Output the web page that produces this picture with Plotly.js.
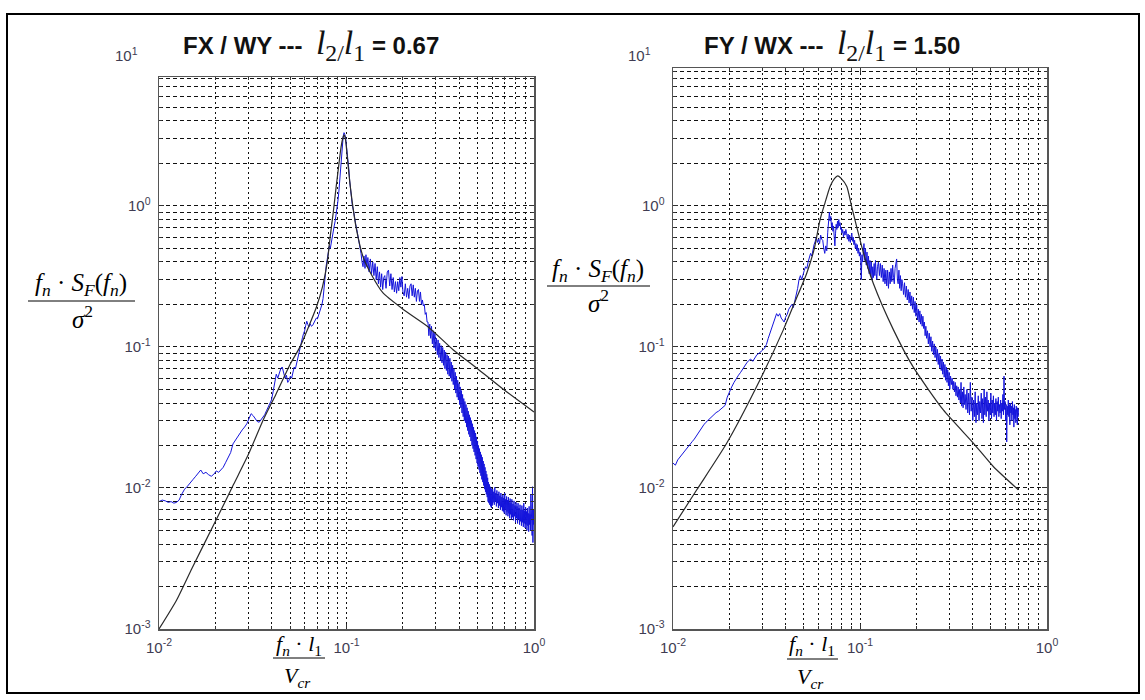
<!DOCTYPE html>
<html><head><meta charset="utf-8">
<script src="https://cdn.plot.ly/plotly-3.0.1.min.js"></script>
<style>html,body{margin:0;padding:0;background:#fff}#chart{width:1145px;height:700px}</style>
</head><body><div id="chart"></div>
<script>
// ---------- DATA ----------
// Left panel: FX / WY, l2/l1 = 0.67
const fxwyTheoryFreq = [0.0100,0.0124,0.0150,0.0200,0.0250,0.0300,0.0360,0.0420,0.0500,0.0565,0.0628,0.0690,0.0745,0.0790,0.0818,0.0850,0.0880,0.0910,0.0935,0.0955,0.0973,0.0990,0.1010,0.1040,0.1080,0.1130,0.1225,0.1350,0.1566,0.2000,0.2720,0.3700,0.5000,0.7000,1.0000];
const fxwyTheory = [0.0010,0.0016,0.0027,0.0058,0.0106,0.0173,0.0304,0.0460,0.0750,0.1000,0.1390,0.1900,0.2670,0.4000,0.6000,0.9000,1.3500,1.9500,2.6000,3.0000,3.1900,2.9000,2.2000,1.5000,1.0000,0.6800,0.4350,0.3300,0.2410,0.1850,0.1390,0.0955,0.0700,0.0490,0.0345];

const fxwyFreq = [
0.0100,0.0104,0.0108,0.0112,0.0116,0.0120,0.0124,0.0128,0.0132,0.0137,
0.0142,0.0147,0.0152,0.0157,0.0162,0.0167,0.0172,0.0178,0.0184,0.0190,
0.0196,0.0202,0.0208,0.0214,0.0220,0.0227,0.0234,0.0241,0.0248,0.0255,
0.0262,0.0270,0.0278,0.0286,0.0294,0.0302,0.0310,0.0318,0.0326,0.0334,
0.0342,0.0350,0.0358,0.0366,0.0374,0.0382,0.0390,0.0398,0.0406,0.0414,
0.0422,0.0430,0.0438,0.0446,0.0454,0.0462,0.0470,0.0478,0.0486,0.0494,
0.0502,0.0510,0.0518,0.0526,0.0534,0.0542,0.0550,0.0558,0.0566,0.0574,
0.0582,0.0590,0.0598,0.0606,0.0614,0.0622,0.0630,0.0640,0.0650,0.0660,
0.0670,0.0680,0.0690,0.0700,0.0710,0.0720,0.0730,0.0740,0.0750,0.0760,
0.0770,0.0780,0.0790,0.0800,0.0810,0.0820,0.0830,0.0840,0.0850,0.0860,
0.0870,0.0880,0.0890,0.0900,0.0910,0.0920,0.0930,0.0940,0.0950,0.0960,
0.0970,0.0980,0.0990,0.1000,0.1010,0.1020,0.1030,0.1040,0.1050,0.1060,
0.1075,0.1090,0.1105,0.1120,0.1135,0.1150,0.1165,0.1180,0.1195,0.1210,
0.1225,0.1240,0.1255,0.1270,0.1285,0.1300,0.1320,0.1340,0.1360,0.1380,
0.1400,0.1420,0.1440,0.1460,0.1480,0.1500,0.1520,0.1540,0.1560,0.1580,
0.1600,0.1625,0.1650,0.1675,0.1700,0.1725,0.1750,0.1775,0.1800,0.1825,
0.1850,0.1875,0.1900,0.1925,0.1950,0.1975,0.2000,0.2030,0.2060,0.2090,
0.2120,0.2150,0.2180,0.2210,0.2240,0.2270,0.2300,0.2330,0.2360,0.2390,
0.2420,0.2450,0.2480,0.2510,0.2540,0.2570,0.2600,0.2630,0.2660,0.2690,
0.2720,0.2750,0.2780,0.2810,0.2840,0.2870,0.2900,0.2930,0.2960,0.2990,
0.3020,0.3050,0.3080,0.3110,0.3140,0.3170,0.3200,0.3230,0.3260,0.3290,
0.3320,0.3350,0.3380,0.3410,0.3440,0.3470,0.3500,0.3530,0.3560,0.3590,
0.3620,0.3650,0.3680,0.3710,0.3740,0.3770,0.3800,0.3830,0.3860,0.3890,
0.3920,0.3950,0.3980,0.4010,0.4040,0.4070,0.4100,0.4130,0.4160,0.4190,
0.4220,0.4250,0.4280,0.4310,0.4340,0.4370,0.4400,0.4430,0.4460,0.4490,
0.4520,0.4550,0.4580,0.4610,0.4640,0.4670,0.4700,0.4730,0.4760,0.4790,
0.4820,0.4850,0.4880,0.4910,0.4940,0.4970,0.5000,0.5030,0.5060,0.5090,
0.5120,0.5150,0.5180,0.5210,0.5240,0.5270,0.5300,0.5330,0.5360,0.5390,
0.5420,0.5450,0.5480,0.5510,0.5540,0.5570,0.5600,0.5630,0.5660,0.5690,
0.5720,0.5750,0.5780,0.5810,0.5840,0.5870,0.5900,0.5930,0.5960,0.5990,
0.6020,0.6060,0.6100,0.6140,0.6180,0.6220,0.6260,0.6300,0.6340,0.6380,
0.6420,0.6460,0.6500,0.6540,0.6580,0.6620,0.6660,0.6700,0.6740,0.6780,
0.6820,0.6860,0.6900,0.6940,0.6980,0.7020,0.7060,0.7100,0.7140,0.7180,
0.7220,0.7260,0.7300,0.7340,0.7380,0.7420,0.7460,0.7500,0.7540,0.7580,
0.7620,0.7670,0.7720,0.7770,0.7820,0.7870,0.7920,0.7970,0.8020,0.8070,
0.8120,0.8170,0.8220,0.8270,0.8320,0.8370,0.8420,0.8470,0.8520,0.8570,
0.8620,0.8670,0.8720,0.8770,0.8820,0.8870,0.8920,0.8970,0.9020,0.9070,
0.9120,0.9170,0.9220,0.9270,0.9320,0.9370,0.9420,0.9470,0.9520,0.9570,
0.9620,0.9670,0.9720,0.9770,0.9820,0.9870,0.9920,0.9960,1.0000];
const fxwyMeasured = [
0.0080,0.0082,0.0081,0.0079,0.0080,0.0078,0.0079,0.0082,0.0090,0.0098,
0.0103,0.0108,0.0115,0.0121,0.0128,0.0134,0.0126,0.0129,0.0124,0.0121,
0.0125,0.0132,0.0129,0.0134,0.0140,0.0152,0.0163,0.0178,0.0205,0.0218,
0.0230,0.0246,0.0258,0.0270,0.0285,0.0310,0.0336,0.0325,0.0308,0.0296,
0.0292,0.0305,0.0318,0.0330,0.0352,0.0372,0.0388,0.0420,0.0480,0.0560,
0.0640,0.0600,0.0660,0.0700,0.0720,0.0640,0.0600,0.0630,0.0560,0.0580,
0.0620,0.0600,0.0680,0.0720,0.0700,0.0770,0.0820,0.0880,0.0980,0.1080,
0.1160,0.1240,0.1300,0.1420,0.1520,0.1440,0.1380,0.1460,0.1400,0.1420,
0.1480,0.1520,0.1600,0.1580,0.1680,0.1760,0.1900,0.2000,0.2200,0.2700,
0.3200,0.3800,0.4200,0.4800,0.5200,0.5000,0.5600,0.6000,0.6600,0.7200,
0.7800,0.8600,0.9600,1.0800,1.2500,1.5000,1.8000,2.3000,2.7000,3.1000,
3.3000,3.2000,3.0000,2.7000,2.4000,2.1000,1.8000,1.5000,1.3000,1.1500,
1.0000,0.9200,0.8000,0.7400,0.6800,0.6200,0.5800,0.5200,0.4600,0.4000,
0.3700,0.4400,0.3600,0.4500,0.3700,0.4300,0.3400,0.4200,0.3300,0.4000,
0.3200,0.3900,0.3000,0.3700,0.2800,0.3400,0.2650,0.3300,0.2550,0.3100,
0.3200,0.2600,0.3400,0.3500,0.2700,0.3300,0.2550,0.3100,0.2450,0.2900,
0.2400,0.2900,0.2500,0.3100,0.2650,0.3150,0.2450,0.2300,0.2800,0.2250,
0.2600,0.2200,0.2700,0.2800,0.2300,0.2750,0.2250,0.2600,0.2100,0.2500,
0.2550,0.2100,0.2450,0.2000,0.2150,0.1950,0.2000,0.1700,0.1750,0.1500,
0.1500,0.1200,0.1450,0.1150,0.1400,0.1050,0.1300,0.0980,0.1250,0.0940,
0.1150,0.0880,0.1120,0.0840,0.1060,0.0800,0.1020,0.0770,0.0990,0.0740,
0.0950,0.0700,0.0920,0.0680,0.0880,0.0640,0.0860,0.0620,0.0830,0.0600,
0.0780,0.0570,0.0740,0.0540,0.0700,0.0500,0.0660,0.0470,0.0620,0.0440,
0.0580,0.0420,0.0550,0.0390,0.0520,0.0370,0.0490,0.0340,0.0460,0.0320,
0.0430,0.0300,0.0410,0.0290,0.0390,0.0270,0.0370,0.0255,0.0350,0.0240,
0.0330,0.0230,0.0315,0.0215,0.0300,0.0200,0.0285,0.0190,0.0270,0.0180,
0.0255,0.0170,0.0245,0.0160,0.0230,0.0150,0.0215,0.0142,0.0200,0.0135,
0.0190,0.0128,0.0180,0.0122,0.0172,0.0115,0.0165,0.0110,0.0155,0.0104,
0.0148,0.0098,0.0140,0.0094,0.0132,0.0090,0.0125,0.0086,0.0118,0.0080,
0.0110,0.0078,0.0106,0.0076,0.0102,0.0074,0.0100,0.0072,0.0098,0.0075,
0.0098,0.0079,0.0094,0.0076,0.0101,0.0080,0.0092,0.0074,0.0096,0.0078,
0.0090,0.0072,0.0094,0.0075,0.0088,0.0070,0.0092,0.0073,0.0086,0.0069,
0.0089,0.0068,0.0085,0.0066,0.0092,0.0070,0.0083,0.0064,0.0087,0.0068,
0.0082,0.0063,0.0086,0.0066,0.0079,0.0061,0.0084,0.0065,0.0078,0.0060,
0.0083,0.0062,0.0077,0.0059,0.0081,0.0063,0.0075,0.0057,0.0079,0.0061,
0.0074,0.0056,0.0078,0.0060,0.0072,0.0055,0.0076,0.0058,0.0070,0.0054,
0.0075,0.0057,0.0070,0.0053,0.0078,0.0056,0.0069,0.0052,0.0073,0.0055,
0.0068,0.0050,0.0072,0.0054,0.0066,0.0049,0.0074,0.0055,0.0065,0.0050,
0.0090,0.0052,0.0068,0.0046,0.0102,0.0041,0.0070,0.0055,0.0062];

// Right panel: FY / WX, l2/l1 = 1.50
const fywxTheoryFreq = [0.0100,0.0134,0.0194,0.0292,0.0389,0.0450,0.0519,0.0570,0.0611,0.0650,0.0692,0.0730,0.0760,0.0790,0.0850,0.0900,0.0960,0.1050,0.1180,0.1510,0.1920,0.2790,0.4035,0.5160,0.7030];
const fywxTheory = [0.0053,0.0097,0.0208,0.0584,0.1320,0.2100,0.3330,0.5000,0.7950,1.0500,1.3700,1.5600,1.6300,1.5700,1.3700,1.0000,0.7100,0.4500,0.2800,0.1320,0.0724,0.0357,0.0208,0.0142,0.0097];

const fywxFreq = [
0.0100,0.0103,0.0106,0.0109,0.0112,0.0115,0.0118,0.0121,0.0124,0.0127,
0.0130,0.0134,0.0138,0.0142,0.0146,0.0150,0.0155,0.0160,0.0165,0.0170,
0.0175,0.0180,0.0185,0.0190,0.0195,0.0200,0.0206,0.0212,0.0218,0.0224,
0.0230,0.0236,0.0242,0.0248,0.0254,0.0260,0.0267,0.0274,0.0281,0.0288,
0.0295,0.0302,0.0309,0.0316,0.0323,0.0330,0.0337,0.0344,0.0351,0.0358,
0.0365,0.0372,0.0379,0.0386,0.0393,0.0400,0.0408,0.0416,0.0424,0.0432,
0.0440,0.0448,0.0456,0.0464,0.0472,0.0480,0.0488,0.0496,0.0504,0.0512,
0.0520,0.0528,0.0536,0.0544,0.0552,0.0560,0.0568,0.0576,0.0584,0.0592,
0.0600,0.0608,0.0616,0.0624,0.0632,0.0640,0.0648,0.0656,0.0664,0.0672,
0.0680,0.0686,0.0692,0.0698,0.0704,0.0710,0.0716,0.0722,0.0728,0.0734,
0.0740,0.0746,0.0752,0.0758,0.0764,0.0770,0.0776,0.0782,0.0788,0.0794,
0.0800,0.0808,0.0816,0.0824,0.0832,0.0840,0.0848,0.0856,0.0864,0.0872,
0.0880,0.0888,0.0896,0.0904,0.0912,0.0920,0.0928,0.0936,0.0944,0.0952,
0.0960,0.0968,0.0976,0.0984,0.0992,0.1000,0.1008,0.1016,0.1024,0.1032,
0.1040,0.1050,0.1060,0.1070,0.1080,0.1090,0.1100,0.1110,0.1120,0.1130,
0.1140,0.1150,0.1160,0.1170,0.1180,0.1190,0.1200,0.1210,0.1220,0.1230,
0.1240,0.1255,0.1270,0.1285,0.1300,0.1315,0.1330,0.1345,0.1360,0.1375,
0.1390,0.1405,0.1420,0.1435,0.1450,0.1465,0.1480,0.1495,0.1510,0.1525,
0.1540,0.1555,0.1570,0.1585,0.1600,0.1615,0.1630,0.1645,0.1660,0.1675,
0.1690,0.1710,0.1730,0.1750,0.1770,0.1790,0.1810,0.1830,0.1850,0.1870,
0.1890,0.1910,0.1930,0.1950,0.1970,0.1990,0.2010,0.2030,0.2050,0.2070,
0.2090,0.2110,0.2130,0.2150,0.2170,0.2190,0.2210,0.2230,0.2250,0.2270,
0.2295,0.2320,0.2345,0.2370,0.2395,0.2420,0.2445,0.2470,0.2495,0.2520,
0.2545,0.2570,0.2595,0.2620,0.2645,0.2670,0.2695,0.2720,0.2745,0.2770,
0.2795,0.2820,0.2845,0.2870,0.2895,0.2920,0.2945,0.2970,0.2995,0.3020,
0.3050,0.3080,0.3110,0.3140,0.3170,0.3200,0.3230,0.3260,0.3290,0.3320,
0.3350,0.3380,0.3410,0.3440,0.3470,0.3500,0.3530,0.3560,0.3590,0.3620,
0.3650,0.3690,0.3730,0.3770,0.3810,0.3850,0.3890,0.3930,0.3970,0.4010,
0.4050,0.4090,0.4130,0.4170,0.4210,0.4250,0.4290,0.4330,0.4370,0.4410,
0.4450,0.4490,0.4530,0.4570,0.4610,0.4650,0.4690,0.4730,0.4770,0.4810,
0.4850,0.4890,0.4930,0.4970,0.5010,0.5050,0.5090,0.5130,0.5170,0.5210,
0.5250,0.5290,0.5330,0.5370,0.5410,0.5450,0.5490,0.5530,0.5570,0.5610,
0.5650,0.5690,0.5730,0.5770,0.5810,0.5850,0.5890,0.5930,0.5970,0.6010,
0.6050,0.6090,0.6130,0.6170,0.6210,0.6250,0.6290,0.6330,0.6370,0.6410,
0.6450,0.6490,0.6530,0.6570,0.6610,0.6650,0.6690,0.6730,0.6770,0.6810,
0.6850,0.6880,0.6910,0.6940,0.6970,0.7000,0.7030];
const fywxMeasured = [
0.0150,0.0145,0.0158,0.0166,0.0172,0.0180,0.0188,0.0196,0.0205,0.0214,
0.0222,0.0236,0.0250,0.0268,0.0280,0.0292,0.0305,0.0320,0.0334,0.0342,
0.0350,0.0362,0.0372,0.0385,0.0440,0.0480,0.0520,0.0560,0.0600,0.0630,
0.0660,0.0700,0.0740,0.0770,0.0800,0.0820,0.0790,0.0840,0.0880,0.0900,
0.0920,0.0950,0.0980,0.1040,0.1150,0.1250,0.1320,0.1450,0.1600,0.1720,
0.1650,0.1720,0.1600,0.1550,0.1500,0.1620,0.1700,0.1850,0.1950,0.2000,
0.1900,0.2100,0.2300,0.2600,0.3000,0.3200,0.3000,0.3300,0.3500,0.3700,
0.3600,0.4000,0.4300,0.4600,0.4400,0.4900,0.5300,0.5600,0.6000,0.5500,
0.5800,0.5400,0.6200,0.5800,0.5700,0.5000,0.4600,0.5200,0.4800,0.6500,
0.7500,0.9000,0.7800,0.8400,0.7000,0.7600,0.6600,0.7200,0.6000,0.5200,
0.6400,0.7400,0.6800,0.7800,0.7000,0.8000,0.7200,0.7600,0.6800,0.7000,
0.6400,0.6800,0.6000,0.6600,0.6200,0.6800,0.6400,0.5800,0.6300,0.5600,
0.6200,0.5500,0.6000,0.6400,0.5600,0.6000,0.5300,0.5700,0.5000,0.5400,
0.4800,0.5300,0.4600,0.5000,0.4400,0.4700,0.4100,0.3000,0.4500,0.4000,
0.4600,0.5400,0.4100,0.5000,0.3800,0.4700,0.3600,0.4400,0.3300,0.4100,
0.3200,0.4000,0.3000,0.3700,0.3100,0.3900,0.3200,0.4100,0.3300,0.3000,
0.3700,0.4000,0.3200,0.3900,0.3100,0.3800,0.2900,0.3600,0.2800,0.3500,
0.2700,0.3500,0.2600,0.3400,0.2800,0.3600,0.2900,0.3800,0.3100,0.2800,
0.3600,0.4000,0.4200,0.3000,0.2800,0.3500,0.2600,0.3200,0.2500,0.3000,
0.2800,0.2350,0.2850,0.2250,0.2700,0.2150,0.2550,0.2050,0.2450,0.1950,
0.2300,0.1850,0.2250,0.1750,0.2100,0.1650,0.2000,0.1550,0.1850,0.1500,
0.1800,0.1450,0.1700,0.1400,0.1650,0.1350,0.1500,0.1200,0.1400,0.1150,
0.1300,0.1050,0.1250,0.1000,0.1180,0.0930,0.1100,0.0880,0.1050,0.0840,
0.1000,0.0790,0.0960,0.0750,0.0900,0.0710,0.0860,0.0680,0.0820,0.0640,
0.0780,0.0610,0.0750,0.0580,0.0720,0.0560,0.0690,0.0530,0.0660,0.0500,
0.0620,0.0540,0.0600,0.0500,0.0570,0.0480,0.0560,0.0450,0.0530,0.0440,
0.0520,0.0420,0.0500,0.0400,0.0560,0.0380,0.0480,0.0370,0.0520,0.0390,
0.0460,0.0360,0.0500,0.0340,0.0470,0.0330,0.0560,0.0350,0.0440,0.0300,
0.0420,0.0320,0.0480,0.0290,0.0400,0.0330,0.0450,0.0300,0.0410,0.0340,
0.0470,0.0310,0.0430,0.0290,0.0500,0.0330,0.0440,0.0320,0.0480,0.0350,
0.0420,0.0300,0.0400,0.0330,0.0470,0.0310,0.0420,0.0340,0.0450,0.0320,
0.0400,0.0330,0.0430,0.0300,0.0410,0.0350,0.0440,0.0320,0.0390,0.0340,
0.0420,0.0310,0.0400,0.0350,0.0460,0.0330,0.0620,0.0360,0.0410,0.0300,
0.0390,0.0212,0.0380,0.0330,0.0420,0.0320,0.0390,0.0280,0.0400,0.0340,
0.0380,0.0300,0.0410,0.0330,0.0370,0.0270,0.0390,0.0310,0.0360,0.0290,
0.0380,0.0300,0.0350,0.0280,0.0370,0.0320,0.0360];

// Tick labels and titles
const xTickVals = [0.01, 0.1, 1];
const xTickText = ['10<sup>-2</sup>', '10<sup>-1</sup>', '10<sup>0</sup>'];
const yTickVals = [0.001, 0.01, 0.1, 1];
const yTickText = ['10<sup>-3</sup>', '10<sup>-2</sup>', '10<sup>-1</sup>', '10<sup>0</sup>'];
const topTickText = '10<sup>1</sup>';
const panelTitles = [
  {name:'FX / WY', ratio:'0.67'},
  {name:'FY / WX', ratio:'1.50'}
];

// ---------- LAYOUT ----------
const W = 1145, H = 700;
const px = v => v / W, py = v => 1 - v / H;

function minorVals(kFrom, kTo){
  const out = [];
  for (let k = kFrom; k < kTo; k++) for (let d = 2; d <= 9; d++) out.push(+(d * Math.pow(10, k)).toPrecision(3));
  return out;
}
const gridCol = '#111';
const tickCol = '#403c52';
const tickFont = {family:'Arial, Liberation Sans, sans-serif', size:15, color:tickCol};

function xAxis(dom, anchor){
  return {type:'log', domain:dom, anchor:anchor, range:[-2,0], tickmode:'array', tickvals:xTickVals, ticktext:xTickText,
    ticks:'inside', ticklen:5, tickcolor:'#333', tickwidth:1, showline:true, mirror:'ticks', linecolor:'#555', linewidth:1.5,
    showgrid:true, gridcolor:gridCol, gridwidth:1, griddash:'2px,3px', zeroline:false, tickfont:tickFont, ticklabelstandoff:4,
    minor:{tickmode:'array', tickvals:minorVals(-2,0), showgrid:true, gridcolor:gridCol, gridwidth:1, griddash:'2px,3px', ticks:'inside', ticklen:3, tickcolor:'#333'},
    fixedrange:true};
}
function yAxis(dom, anchor, top){
  return {type:'log', domain:dom, anchor:anchor, range:[-3, top], tickmode:'array', tickvals:yTickVals, ticktext:yTickText,
    ticks:'inside', ticklen:5, tickcolor:'#333', tickwidth:1, showline:true, mirror:'ticks', linecolor:'#555', linewidth:1.5,
    showgrid:true, gridcolor:gridCol, gridwidth:1, griddash:'4px,3px', zeroline:false, tickfont:tickFont, ticklabelstandoff:4,
    minor:{tickmode:'array', tickvals:minorVals(-3,1), showgrid:true, gridcolor:gridCol, gridwidth:1, griddash:'4px,3px', ticks:'inside', ticklen:3, tickcolor:'#333'},
    fixedrange:true};
}

const traces = [
  {x:fxwyFreq, y:fxwyMeasured, xaxis:'x', yaxis:'y', type:'scatter', mode:'lines', line:{color:'#1414dc', width:1}, hoverinfo:'skip'},
  {x:fxwyTheoryFreq, y:fxwyTheory, xaxis:'x', yaxis:'y', type:'scatter', mode:'lines', line:{color:'#2a2a2a', width:1.2, shape:'spline', smoothing:0.6}, hoverinfo:'skip'},
  {x:fywxFreq, y:fywxMeasured, xaxis:'x2', yaxis:'y2', type:'scatter', mode:'lines', line:{color:'#1414dc', width:1}, hoverinfo:'skip'},
  {x:fywxTheoryFreq, y:fywxTheory, xaxis:'x2', yaxis:'y2', type:'scatter', mode:'lines', line:{color:'#2a2a2a', width:1.2, shape:'spline', smoothing:0.6}, hoverinfo:'skip'}
];

const serif = "'Liberation Serif', 'Times New Roman', serif";
const sans = 'Arial, Liberation Sans, sans-serif';
function titleText(t){
  return '<b>' + t.name + ' ---  </b>' +
    '<span style="font-family:Liberation Serif;font-size:34px"><i>l</i><sub>2/</sub><i>l</i><sub>1</sub></span>' +
    '<b> = ' + t.ratio + '</b>';
}
const yNum = '<i>f</i><sub><i>n</i></sub>\u00a0·\u00a0<i>S</i><sub><i>F</i></sub>(<i>f</i><sub><i>n</i></sub>)';
const yDen = '<i>σ</i><sup>2</sup>';
const xNum = '<i>f</i><sub><i>n</i></sub>\u00a0·\u00a0<i>l</i><sub>1</sub>';
const xDen = '<i>V</i><sub><i>cr</i></sub>';

function ann(x, y, text, font, xanchor){
  return {xref:'paper', yref:'paper', x:px(x), y:py(y), text:text, showarrow:false, xanchor:xanchor||'center', yanchor:'middle', font:font};
}
const yLabFont = {family:serif, size:25, color:'#000'};
const xLabFont = {family:serif, size:22, color:'#000'};
const annotations = [
  ann(311, 45, titleText(panelTitles[0]), {family:sans, size:24, color:'#111'}),
  ann(832, 45, titleText(panelTitles[1]), {family:sans, size:24, color:'#111'}),
  ann(140, 54, topTickText, tickFont, 'right'),
  ann(653, 54, topTickText, tickFont, 'right'),
  ann(81, 284, yNum, yLabFont), ann(82, 317, yDen, yLabFont),
  ann(598, 270, yNum, yLabFont), ann(598, 301, yDen, yLabFont),
  ann(299, 645, xNum, xLabFont), ann(298, 677, xDen, xLabFont),
  ann(812, 645, xNum, xLabFont), ann(810, 678, xDen, xLabFont)
];
function hline(x0, x1, y, w){
  return {type:'line', xref:'paper', yref:'paper', x0:px(x0), x1:px(x1), y0:py(y), y1:py(y), line:{color:'#000', width:w||1}};
}
const shapes = [
  {type:'rect', xref:'paper', yref:'paper', x0:px(7), x1:px(1139), y0:py(14), y1:py(693), line:{color:'#000', width:2}},
  hline(28, 135, 301), hline(547, 650, 286),
  hline(273, 325, 658), hline(787, 838, 659)
];

const layout = {
  width:W, height:H, margin:{l:0, r:0, t:0, b:0}, showlegend:false,
  paper_bgcolor:'#fff', plot_bgcolor:'#fff',
  xaxis: xAxis([px(159), px(534)], 'y'),
  yaxis: yAxis([py(629), py(77)], 'x', 0.913),
  xaxis2: xAxis([px(673), px(1047)], 'y2'),
  yaxis2: yAxis([py(629), py(68)], 'x2', 0.977),
  annotations: annotations, shapes: shapes
};
Plotly.newPlot('chart', traces, layout, {staticPlot:true, displayModeBar:false});
</script></body></html>
